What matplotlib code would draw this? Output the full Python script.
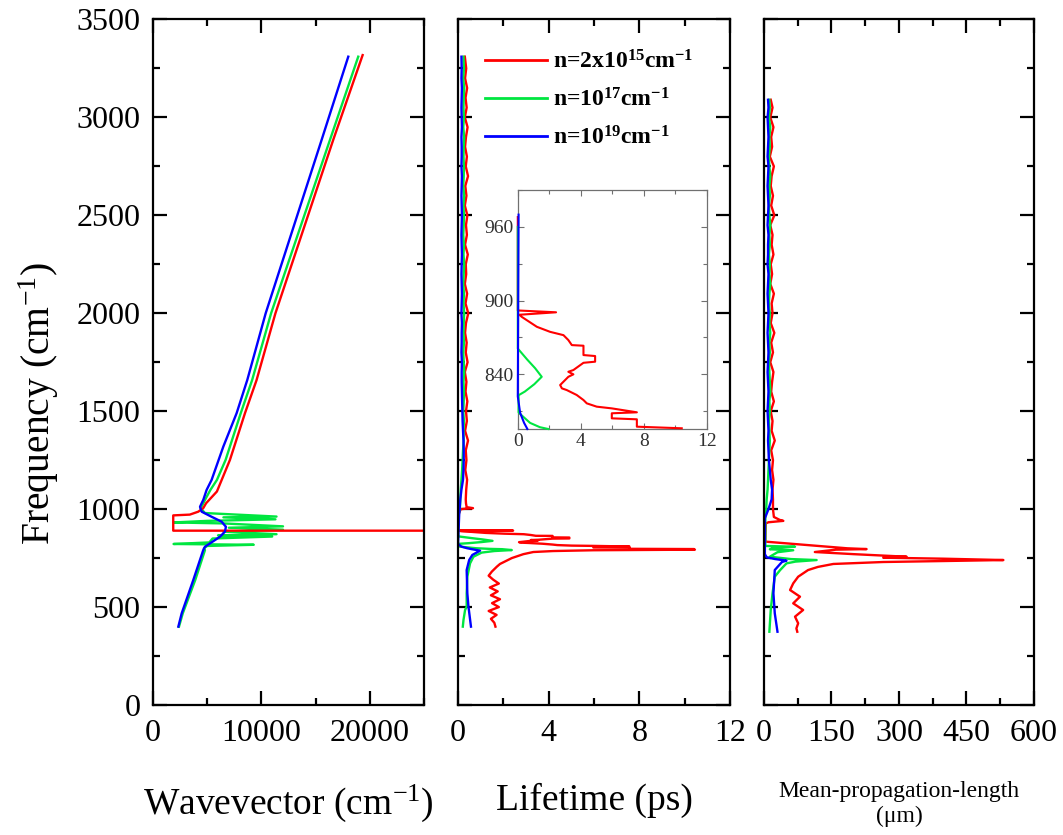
import numpy as np
import matplotlib
matplotlib.use('Agg')
import matplotlib.pyplot as plt
from matplotlib.ticker import MultipleLocator
from matplotlib.lines import Line2D

# --------------------------------------------------------------------------------
# Fonts
plt.rcParams['font.family'] = 'serif'
plt.rcParams['font.serif'] = ['Liberation Serif', 'DejaVu Serif']
plt.rcParams['mathtext.fontset'] = 'custom'
plt.rcParams['mathtext.rm'] = 'Liberation Serif'
plt.rcParams['mathtext.it'] = 'Liberation Serif:italic'
plt.rcParams['mathtext.bf'] = 'Liberation Serif:bold'
# --------------------------------------------------------------------------------

# --------------------------------------------------------------------------------
# Colours / labels
sColRed = '#ff0000'
sColGreen = '#00e640'
sColBlue = '#0000ff'
a1sLegend = [r'n=2x10$^{\mathbf{15}}$cm$^{\mathbf{-1}}$',
             r'n=10$^{\mathbf{17}}$cm$^{\mathbf{-1}}$',
             r'n=10$^{\mathbf{19}}$cm$^{\mathbf{-1}}$']
# --------------------------------------------------------------------------------

# --------------------------------------------------------------------------------
# Panel 1: dispersion (wavevector [cm-1], frequency [cm-1])
a1dKRed = [19345, 16630, 11300, 9560, 8490, 7100, 6340, 5900, 4900, 4640, 4180, 3400,
           1870, 1870, 26000]
a1dFRed = [3318, 2885, 2000, 1659, 1490, 1251, 1149, 1090, 1030, 1005, 987, 972,
           968, 890, 890]

a1dKGreen = [18940, 16330, 10900, 9150, 8100, 6700, 5900, 5300, 4800, 4400,
             4800, 11400, 6500, 11300, 5000, 1900, 6500, 12000, 7000, 12000, 6500,
             11400, 6000, 11000, 5500, 5200, 1900, 9300, 5000, 4700,
             4800, 3900, 2750, 2400]
a1dFGreen = [3310, 2885, 2000, 1659, 1490, 1251, 1149, 1098, 1047, 1004,
             980, 962, 958, 948, 940, 932, 927, 912, 905, 895, 885,
             872, 866, 860, 850, 830, 822, 818, 812, 800,
             791, 638, 468, 400]

a1dKBlue = [18020, 15560, 10400, 8700, 7720, 6490, 5410, 4950, 4640, 4340, 4490,
            5410, 6330, 6730, 6640, 6180, 5720, 5260, 4800, 4640, 3720, 2650, 2340]
a1dFBlue = [3310, 2885, 2000, 1659, 1490, 1319, 1149, 1098, 1047, 1012, 987,
            961, 936, 910, 885, 859, 842, 825, 808, 791, 638, 468, 400]
# --------------------------------------------------------------------------------

# --------------------------------------------------------------------------------
# Panel 2: lifetime [ps]
a1dFreqUp = [3310, 3250, 3200, 3150, 3100, 3050, 3000, 2950, 2900, 2850,
             2800, 2750, 2700, 2650, 2600, 2550, 2500, 2450, 2400, 2350,
             2300, 2250, 2200, 2150, 2100, 2050, 2000, 1950, 1900, 1850,
             1800, 1750, 1700, 1650, 1600, 1550, 1500, 1450, 1400, 1350,
             1300, 1250, 1200, 1150, 1100, 1050]

a1dTauRedUp = [0.30, 0.36, 0.31, 0.40, 0.33, 0.38, 0.30, 0.42, 0.35, 0.31,
               0.39, 0.34, 0.44, 0.32, 0.37, 0.30, 0.41, 0.35, 0.39, 0.31,
               0.43, 0.34, 0.36, 0.30, 0.40, 0.33, 0.45, 0.35, 0.31, 0.38,
               0.34, 0.42, 0.30, 0.37, 0.33, 0.41, 0.35, 0.39, 0.31, 0.44,
               0.34, 0.37, 0.32, 0.40, 0.36, 0.34]
a1dTauGreenUp = [0.24, 0.26, 0.23, 0.27, 0.25, 0.24, 0.26, 0.23, 0.27, 0.25,
                 0.24, 0.26, 0.25, 0.23, 0.27, 0.24, 0.26, 0.25, 0.23, 0.26,
                 0.24, 0.27, 0.25, 0.23, 0.26, 0.24, 0.27, 0.25, 0.24, 0.26,
                 0.23, 0.25, 0.27, 0.24, 0.26, 0.25, 0.23, 0.26, 0.24, 0.25,
                 0.22, 0.20, 0.18, 0.15, 0.12, 0.10]
a1dTauBlueUp = [0.15, 0.16, 0.15, 0.17, 0.16, 0.15, 0.16, 0.17, 0.15, 0.16,
                0.16, 0.15, 0.17, 0.16, 0.15, 0.16, 0.17, 0.16, 0.15, 0.16,
                0.17, 0.16, 0.15, 0.16, 0.17, 0.16, 0.15, 0.17, 0.16, 0.16,
                0.15, 0.17, 0.16, 0.16, 0.17, 0.18, 0.19, 0.20, 0.22, 0.24,
                0.25, 0.25, 0.24, 0.22, 0.15, 0.10]

# Resonance region (shared with inset)
a1dFRedIn = [968, 892, 890.5, 888.5, 886.8, 884.1, 878.7, 874.6, 871.9, 867.9,
             863.8, 863.3, 855.7, 854.9, 850.3, 849.4, 843.5, 842.1, 840.0, 838.0,
             834.0, 831.3, 828.6, 827.2, 823.2, 819.1, 816.4, 813.7, 812.3, 809.1,
             808.3, 804.2, 803.4, 797.4, 796.1]
a1dTauRedIn = [0.0, 0.0, 2.43, 0.1, 0.25, 0.57, 1.21, 2.05, 2.90, 3.21,
               3.43, 4.17, 4.17, 4.91, 4.91, 4.17, 3.53, 3.21, 3.53, 3.21,
               2.90, 2.69, 2.80, 3.11, 3.74, 4.17, 4.38, 5.01, 5.97, 7.56,
               5.97, 5.97, 7.56, 7.56, 10.41]
a1dFGreenIn = [960, 861, 852, 845, 838, 832, 826, 823, 809, 806, 800.5, 797, 795.5]
a1dTauGreenIn = [0.0, 0.0, 0.6, 1.1, 1.52, 1.05, 0.45, 0.05, 0.05, 0.3, 0.78, 1.4, 1.94]
a1dFBlueIn = [970, 822, 808.6, 800.5, 795.5]
a1dTauBlueIn = [0.05, 0.0, 0.15, 0.4, 0.61]

# Main panel pieces around the resonance
a1dFRedPre = [1030, 1010, 1005, 1000]
a1dTauRedPre = [0.35, 0.38, 0.66, 0.12]
a1dFRedPost = [793, 790, 786, 781, 770, 750, 720, 706, 681, 660, 640, 620, 600,
               580, 560, 540, 520, 500, 480, 460, 440, 420, 400]
a1dTauRedPost = [10.45, 5.97, 4.2, 3.32, 2.88, 2.37, 1.85, 1.71, 1.49, 1.35, 1.55, 1.8, 1.4,
                 1.75, 1.45, 1.85, 1.5, 1.8, 1.35, 1.7, 1.45, 1.6, 1.65]
a1dFGreenPre = [1000]
a1dTauGreenPre = [0.08]
a1dFGreenPost = [791, 786, 778, 757, 723, 655, 570, 502, 485, 434, 400]
a1dTauGreenPost = [2.37, 1.6, 1.04, 0.68, 0.53, 0.41, 0.38, 0.38, 0.31, 0.24, 0.21]
a1dFBluePre = [1000]
a1dTauBluePre = [0.07]
a1dFBluePost = [788, 766, 740, 689, 570, 502, 400]
a1dTauBluePost = [0.97, 0.63, 0.49, 0.38, 0.41, 0.46, 0.57]
# --------------------------------------------------------------------------------

# --------------------------------------------------------------------------------
# Panel 3: mean propagation length [um]
a1dFreqUpR = [3090, 3050, 3000, 2950, 2900, 2850, 2800, 2750, 2700, 2650,
              2600, 2550, 2500, 2450, 2400, 2350, 2300, 2250, 2200, 2150,
              2100, 2050, 2000, 1950, 1900, 1850, 1800, 1750, 1700, 1650,
              1600, 1550, 1500, 1450, 1400, 1350, 1300, 1250, 1200, 1150,
              1100, 1050]
a1dLRedUp = [15, 19, 14, 21, 16, 18, 13, 22, 17, 15,
             20, 16, 23, 14, 19, 17, 21, 15, 18, 14,
             22, 17, 19, 15, 23, 16, 20, 14, 21, 18,
             16, 22, 15, 19, 17, 24, 16, 20, 18, 21,
             19, 20]
a1dLGreenUp = [12, 13, 11, 14, 12, 13, 11, 12, 14, 12,
               13, 11, 12, 14, 12, 13, 11, 13, 12, 14,
               12, 11, 13, 12, 14, 12, 13, 11, 12, 13,
               14, 12, 13, 11, 12, 13, 12, 11, 10, 9,
               8, 6]
a1dLBlueUp = [9, 10, 8, 9, 10, 9, 8, 10, 9, 8,
              9, 10, 9, 8, 10, 9, 9, 8, 10, 9,
              8, 9, 10, 9, 8, 9, 10, 9, 8, 9,
              10, 9, 8, 9, 10, 9, 10, 11, 13, 15,
              18, 17]

a1dFRedLow = [1000, 960, 945, 940, 933, 927, 834, 800, 796, 793, 781, 770, 757, 752,
              747, 740, 735, 730, 720, 705, 689, 655, 621, 587, 553, 519, 485, 451,
              417, 391, 374]
a1dLRedLow = [20, 22, 35, 43, 10, 4, 3, 185, 228, 160, 113, 200, 317, 265,
              398, 532, 400, 265, 154, 120, 98, 76, 65, 58, 80, 65, 87, 69,
              76, 72, 74]
a1dFGreenLow = [1000, 960, 812, 808, 802, 795, 790, 780, 757, 745, 740, 732, 723,
                689, 655, 570, 485, 374]
a1dLGreenLow = [5, 3, 3, 69, 20, 13, 65, 30, 13, 60, 117, 70, 50,
                36, 24, 19, 15, 12]
a1dFBlueLow = [1000, 953, 770, 754, 745, 737, 730, 720, 689, 570, 468, 374]
a1dLBlueLow = [10, 2, 2, 6, 25, 50, 40, 36, 24, 21, 24, 30]
# --------------------------------------------------------------------------------


# --------------------------------------------------------------------------------
# Method to style a main panel
def styleAxes(oAx, dXMax, dXMajor, dXMinor, bYLabels):
    for oSpine in oAx.spines.values():
        oSpine.set_linewidth(1.6)
    oAx.set_xlim(0, dXMax)
    oAx.set_ylim(0, 3500)
    oAx.xaxis.set_major_locator(MultipleLocator(dXMajor))
    oAx.xaxis.set_minor_locator(MultipleLocator(dXMinor))
    oAx.yaxis.set_major_locator(MultipleLocator(500))
    oAx.yaxis.set_minor_locator(MultipleLocator(250))
    oAx.tick_params(which='both', direction='in', top=True, right=True,
                    width=1.6, labelsize=23)
    oAx.tick_params(axis='x', pad=10)
    oAx.tick_params(axis='y', pad=9)
    oAx.tick_params(which='major', length=10)
    oAx.tick_params(which='minor', length=5)
    if not bYLabels:
        oAx.tick_params(axis='y', labelleft=False)
# --------------------------------------------------------------------------------

oFig = plt.figure(figsize=(10.63, 8.35), dpi=100)

# --------------------------------------------------------------------------------
# Panel 1
oAx1 = oFig.add_axes([0.1439, 0.1557, 0.2549, 0.8210])
oAx1.plot(a1dKGreen, a1dFGreen, color=sColGreen, lw=1.7)
oAx1.plot(a1dKRed, a1dFRed, color=sColRed, lw=1.7)
oAx1.plot(a1dKBlue, a1dFBlue, color=sColBlue, lw=1.7)
styleAxes(oAx1, 25000, 10000, 5000, True)
oAx1.set_ylabel(r'Frequency (cm$^{-1}$)', fontsize=28.5)
oAx1.yaxis.set_label_coords(-0.34, 0.44)
oAx1.set_xlabel(r'Wavevector (cm$^{-1}$)', fontsize=27, labelpad=25)
# --------------------------------------------------------------------------------

# --------------------------------------------------------------------------------
# Panel 2
oAx2 = oFig.add_axes([0.4309, 0.1557, 0.2559, 0.8210])
oAx2.plot(np.concatenate([a1dTauRedUp, a1dTauRedPre, a1dTauRedIn, a1dTauRedPost]),
          np.concatenate([a1dFreqUp, a1dFRedPre, a1dFRedIn, a1dFRedPost]),
          color=sColRed, lw=1.7)
oAx2.plot(np.concatenate([a1dTauGreenUp, a1dTauGreenPre, a1dTauGreenIn, a1dTauGreenPost]),
          np.concatenate([a1dFreqUp, a1dFGreenPre, a1dFGreenIn, a1dFGreenPost]),
          color=sColGreen, lw=1.7)
oAx2.plot(np.concatenate([a1dTauBlueUp, a1dTauBluePre, a1dTauBlueIn, a1dTauBluePost]),
          np.concatenate([a1dFreqUp, a1dFBluePre, a1dFBlueIn, a1dFBluePost]),
          color=sColBlue, lw=1.7)
styleAxes(oAx2, 12, 4, 2, False)
oAx2.set_xlabel('Lifetime (ps)', fontsize=27, labelpad=25)

a1oHandles = [Line2D([], [], color=sColRed, lw=2),
              Line2D([], [], color=sColGreen, lw=2),
              Line2D([], [], color=sColBlue, lw=2)]
oAx2.legend(a1oHandles, a1sLegend, loc='upper left', bbox_to_anchor=(0.10, 0.955),
            frameon=False, prop={'family': 'serif', 'weight': 'bold', 'size': 17},
            handlelength=2.6, handletextpad=0.25, labelspacing=0.63,
            borderpad=0, borderaxespad=0)
# --------------------------------------------------------------------------------

# --------------------------------------------------------------------------------
# Inset
oAxIn = oFig.add_axes([0.4871, 0.4862, 0.1778, 0.2862])
oAxIn.plot(a1dTauRedIn, a1dFRedIn, color=sColRed, lw=1.5, clip_on=False, zorder=3)
oAxIn.plot(a1dTauGreenIn, a1dFGreenIn, color=sColGreen, lw=1.5, clip_on=False, zorder=3)
oAxIn.plot(a1dTauBlueIn, a1dFBlueIn, color=sColBlue, lw=1.5, clip_on=False, zorder=3)
oAxIn.set_xlim(0, 12)
oAxIn.set_ylim(795.5, 990)
oAxIn.xaxis.set_major_locator(MultipleLocator(4))
oAxIn.xaxis.set_minor_locator(MultipleLocator(2))
oAxIn.yaxis.set_major_locator(MultipleLocator(60))
oAxIn.yaxis.set_minor_locator(MultipleLocator(30))
for oSpine in oAxIn.spines.values():
    oSpine.set_linewidth(0.9)
    oSpine.set_color('#707070')
oAxIn.tick_params(which='both', direction='in', top=True, right=True,
                  width=0.8, color='#707070', labelsize=14, labelcolor='#303030', pad=3)
oAxIn.tick_params(which='major', length=4)
oAxIn.tick_params(which='minor', length=3)
# --------------------------------------------------------------------------------

# --------------------------------------------------------------------------------
# Panel 3
oAx3 = oFig.add_axes([0.7187, 0.1557, 0.2540, 0.8210])
oAx3.plot(np.concatenate([a1dLRedUp, a1dLRedLow]),
          np.concatenate([a1dFreqUpR, a1dFRedLow]), color=sColRed, lw=1.7)
oAx3.plot(np.concatenate([a1dLGreenUp, a1dLGreenLow]),
          np.concatenate([a1dFreqUpR, a1dFGreenLow]), color=sColGreen, lw=1.7)
oAx3.plot(np.concatenate([a1dLBlueUp, a1dLBlueLow]),
          np.concatenate([a1dFreqUpR, a1dFBlueLow]), color=sColBlue, lw=1.7)
styleAxes(oAx3, 600, 150, 75, False)
oAx3.set_xlabel('Mean-propagation-length\n(\u03bcm)', fontsize=17, labelpad=24,
                linespacing=1.25)
# --------------------------------------------------------------------------------

oFig.savefig('out.png', dpi=100)
